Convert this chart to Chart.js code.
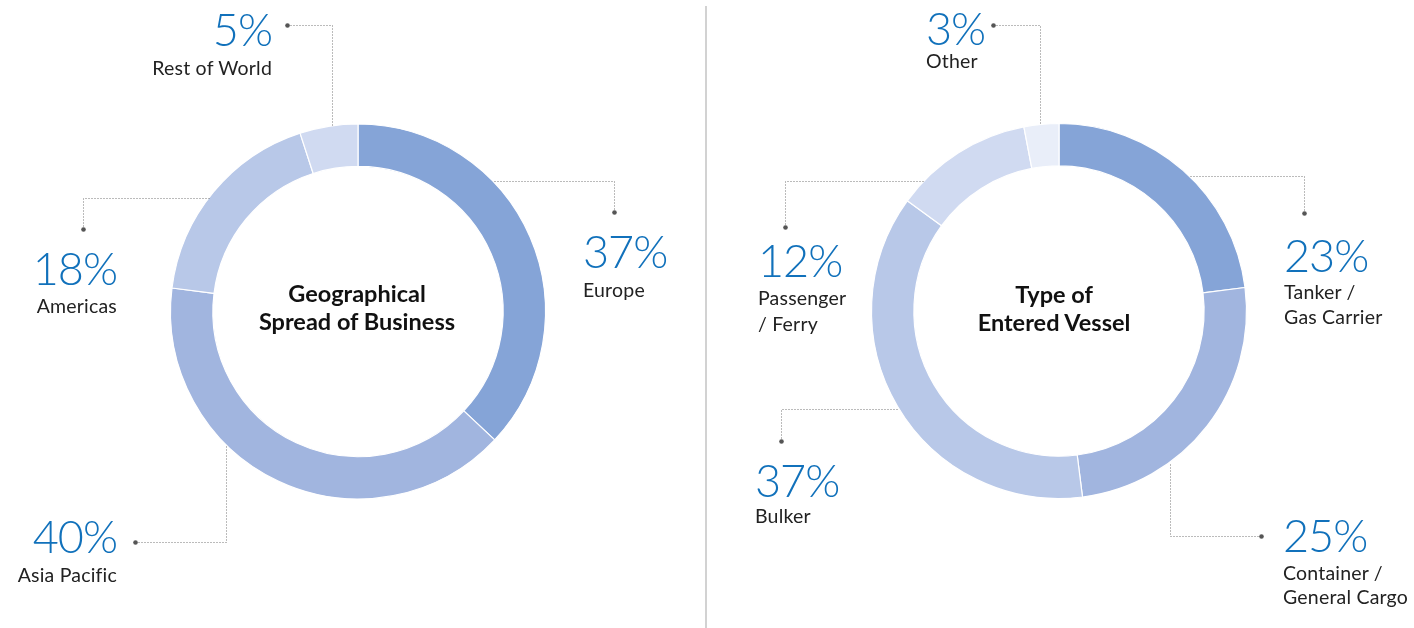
<!DOCTYPE html>
<html lang="en">
<head>
    <meta charset="UTF-8">
    <script src="https://cdn.jsdelivr.net/npm/chart.js"></script>
    <title>Geographical spread and vessel types</title>
    <style>
        body { margin: 0; background: #fff; overflow: hidden; }
        #page { position: relative; width: 1414px; height: 628px; font-family: Lato, "Open Sans", sans-serif; }
        canvas { position: absolute; top: 0; }
        .txt { position: absolute; white-space: nowrap; }
        .pct { color: #1171bb; font-weight: 300; letter-spacing: -1px; }
        .sub { color: #222; font-weight: 400; letter-spacing: 0.2px; }
        .title { color: #111; font-weight: 700; }
        #divider { position: absolute; left: 705px; top: 6px; width: 2px; height: 622px; background: #d2d2d2; }
    </style>
</head>

<body>
    <div id="page">
        <canvas id="geoChart" width="706" height="628" style="left:0"></canvas>
        <div id="divider"></div>
        <canvas id="vesselChart" width="707" height="628" style="left:707px"></canvas>
    </div>
<script>
    // data
    const geoLabels = ['Europe', 'Asia Pacific', 'Americas', 'Rest of World'];
    const geoValues = [37, 40, 18, 5];
    const geoTitle = ['Geographical', 'Spread of Business'];

    const vesselLabels = [['Tanker /', 'Gas Carrier'], ['Container /', 'General Cargo'], ['Bulker'], ['Passenger', '/ Ferry'], ['Other']];
    const vesselValues = [23, 25, 37, 12, 3];
    const vesselTitle = ['Type of', 'Entered Vessel'];

    const geoColors = ['#85a4d7', '#a1b5df', '#b8c8e8', '#d0daf1'];
    const vesselColors = ['#85a4d7', '#a1b5df', '#b8c8e8', '#d0daf1', '#e9eef9'];

    // label placement (page px): x, align, baseline of % and of the text lines
    const geoPlace = [
        { x: 583, align: 'left', pct: 268, sub: [297] },
        { x: 117, align: 'right', pct: 553, sub: [582] },
        { x: 117, align: 'right', pct: 285, sub: [313] },
        { x: 272, align: 'right', pct: 46, sub: [75] }
    ];
    const vesselPlace = [
        { x: 1284, align: 'left', pct: 272, sub: [299, 324] },
        { x: 1283, align: 'left', pct: 552, sub: [580, 604] },
        { x: 755, align: 'left', pct: 497, sub: [523] },
        { x: 758, align: 'left', pct: 277, sub: [305, 331] },
        { x: 926, align: 'left', pct: 45, sub: [68] }
    ];

    // leader lines: dot -> corner -> ring
    const geoLeaders = [
        { dot: [614, 212], corner: [614, 181] },
        { dot: [135, 542], corner: [226, 542] },
        { dot: [83, 229], corner: [83, 198] },
        { dot: [287, 25], corner: [331.5, 25] }
    ];
    const vesselLeaders = [
        { dot: [1304, 213], corner: [1304, 175.5] },
        { dot: [1261, 536], corner: [1170, 536] },
        { dot: [781, 441], corner: [781, 409] },
        { dot: [785, 227], corner: [785, 181] },
        { dot: [993, 25], corner: [1039.5, 25] }
    ];

    const page = document.getElementById('page');

    function addText(text, cls, size, lineH, x, baseline, align) {
        const d = document.createElement('div');
        d.className = 'txt ' + cls;
        d.textContent = text;
        d.style.fontSize = size + 'px';
        d.style.lineHeight = lineH + 'px';
        // Lato: ascent .987, descent .213
        d.style.top = (baseline - (lineH / 2 + 0.387 * size)) + 'px';
        if (align === 'right') {
            d.style.right = (1414 - x) + 'px';
        } else if (align === 'center') {
            d.style.left = (x - 200) + 'px';
            d.style.width = '400px';
            d.style.textAlign = 'center';
        } else {
            d.style.left = x + 'px';
        }
        page.appendChild(d);
    }

    function addLabels(values, labels, places) {
        values.forEach((v, i) => {
            const p = places[i];
            addText(v + '%', 'pct', 45, 46, p.x, p.pct, p.align);
            const lines = Array.isArray(labels[i]) ? labels[i] : [labels[i]];
            lines.forEach((line, j) => addText(line, 'sub', 19.5, 25, p.x, p.sub[j], p.align));
        });
    }

    const leaderPlugin = {
        id: 'leaders',
        afterDraw(chart, args, opts) {
            const ctx = chart.ctx;
            const ox = chart.canvas.offsetLeft, oy = chart.canvas.offsetTop;
            const meta = chart.getDatasetMeta(0);
            ctx.save();
            opts.lines.forEach((l, i) => {
                const arc = meta.data[i];
                const cx = arc.x, cy = arc.y, r = arc.outerRadius;
                const dx = l.dot[0] - ox, dy = l.dot[1] - oy;
                const kx = l.corner[0] - ox, ky = l.corner[1] - oy;
                let ax, ay;
                if (Math.abs(dy - ky) < 0.5) {
                    ax = kx;
                    const h = Math.sqrt(Math.max(r * r - (ax - cx) * (ax - cx), 0));
                    ay = ky < cy ? cy - h : cy + h;
                } else {
                    ay = ky;
                    const w = Math.sqrt(Math.max(r * r - (ay - cy) * (ay - cy), 0));
                    ax = kx < cx ? cx - w : cx + w;
                }
                const px = v => Math.round(v) + 0.5;
                ctx.beginPath();
                ctx.setLineDash([1, 2]);
                ctx.lineWidth = 1;
                ctx.strokeStyle = '#777';
                ctx.moveTo(px(dx), px(dy));
                ctx.lineTo(px(kx), px(ky));
                ctx.lineTo(px(ax), px(ay));
                ctx.stroke();
                ctx.setLineDash([]);
                ctx.beginPath();
                ctx.fillStyle = '#555';
                ctx.arc(px(dx), px(dy), 2.3, 0, Math.PI * 2);
                ctx.fill();
            });
            ctx.restore();
        }
    };

    function makeDonut(id, labels, values, colors, leaders, padding) {
        return new Chart(document.getElementById(id), {
            type: 'doughnut',
            data: {
                labels: labels.map(l => Array.isArray(l) ? l.join(' ') : l),
                datasets: [{
                    data: values,
                    backgroundColor: colors,
                    borderColor: '#fff',
                    borderWidth: 1.2
                }]
            },
            options: {
                responsive: false,
                animation: false,
                radius: 187.5,
                cutout: '77.4%',
                layout: { padding: padding },
                plugins: {
                    legend: { display: false },
                    tooltip: { enabled: false },
                    leaders: { lines: leaders }
                }
            },
            plugins: [leaderPlugin]
        });
    }

    makeDonut('geoChart', geoLabels, geoValues, geoColors, geoLeaders, { left: 10, right: 0, top: 0, bottom: 5 });
    makeDonut('vesselChart', vesselLabels, vesselValues, vesselColors, vesselLeaders, { left: 0, right: 3, top: 0, bottom: 6 });

    addLabels(geoValues, geoLabels, geoPlace);
    addLabels(vesselValues, vesselLabels, vesselPlace);

    addText(geoTitle[0], 'title', 23.5, 28, 357, 302, 'center');
    addText(geoTitle[1], 'title', 23.5, 28, 357, 330, 'center');
    addText(vesselTitle[0], 'title', 23.5, 28, 1054, 303, 'center');
    addText(vesselTitle[1], 'title', 23.5, 28, 1054, 331, 'center');
</script>
</body>
</html>
